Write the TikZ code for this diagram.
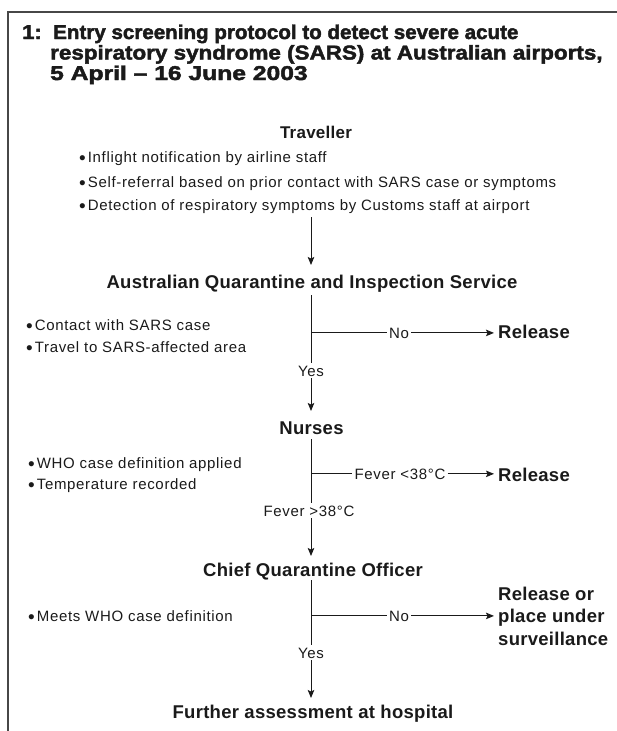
\documentclass[tikz,border=0pt]{standalone}
\usepackage{fontspec}
\setmainfont{Liberation Sans}
\newfontfamily\bodyfont[LetterSpace=4.5]{Liberation Sans}
\newfontfamily\headfont[LetterSpace=1.5]{Liberation Sans}
\newfontfamily\titlefont[FakeStretch=1.1,FakeBold=2.2]{Liberation Sans}
\usetikzlibrary{arrows.meta}
\definecolor{ink}{HTML}{1A1A1A}
\newcommand{\bul}{\raisebox{-2.2pt}{\fontsize{19}{16}\selectfont\textbullet}\hspace{2pt}}
\tikzset{
  titletext/.style={anchor=base west, inner sep=0pt, text=ink,
    font=\titlefont\bfseries\fontsize{20}{24}\selectfont},
  headtext/.style={anchor=base, inner sep=0pt, text=ink,
    font=\headfont\bfseries\fontsize{18.5}{22}\selectfont},
  outcome/.style={anchor=base west, inner sep=0pt, inner xsep=4pt, text=ink,
    font=\headfont\bfseries\fontsize{18.5}{22}\selectfont},
  bullettext/.style={anchor=base west, inner sep=0pt, text=ink,
    font=\bodyfont\fontsize{15}{17}\selectfont},
  labeltext/.style={anchor=base, inner sep=2pt, text=ink,
    font=\bodyfont\fontsize{15}{17}\selectfont},
  flowline/.style={draw=ink, line width=1pt},
  flowarrow/.style={flowline, -{Stealth[length=8pt,width=6.5pt,inset=1.5pt]}},
  frameline/.style={draw=black!72, line width=1.6pt}
}
\begin{document}
\begin{tikzpicture}[x=1pt,y=-1pt]
\useasboundingbox (0,0) rectangle (616,731);
% frame
\draw[frameline] (8,745) -- (8,12) -- (630,12);

% title
\node[titletext] (t0) at (22,39) {1:};
\node[titletext] (t1) at (53,39) {\scalebox{0.935}[1]{Entry screening protocol to detect severe acute}};
\node[titletext] (t2) at (50,59.5) {\scalebox{1.02}[1]{respiratory syndrome (SARS) at Australian airports,}};
\node[titletext] (t3) at (50,80) {\scalebox{1.12}[1]{5 April – 16 June 2003}};

\coordinate (axis) at (311,0);

% Traveller
\node[headtext, font=\headfont\bfseries\fontsize{17}{20}\selectfont] (trav) at (316,138) {Traveller};
\node[bullettext] (tb1) at (79,162) {\bul Inflight notification by airline staff};
\node[bullettext] (tb2) at (79,187) {\bul Self-referral based on prior contact with SARS case or symptoms};
\node[bullettext] (tb3) at (79,210) {\bul Detection of respiratory symptoms by Customs staff at airport};
\coordinate (s0a) at (311,217);
\coordinate (s0b) at (311,265);
\draw[flowarrow] (s0a) -- (s0b);

% AQIS
\node[headtext] (aqis) at (312,288) {Australian Quarantine and Inspection Service};
\node[bullettext] (ab1) at (26,330) {\bul Contact with SARS case};
\node[bullettext] (ab2) at (26,352) {\bul Travel to SARS-affected area};
\coordinate (s1a) at (311,295);
\node[labeltext] (yes1) at (311,376) {Yes};
\node[labeltext] (no1) at (399,338) {No};
\node[outcome] (rel1) at (494,338) {Release};
\draw[flowline] (s1a) -- (yes1.north);
\draw[flowline] (axis |- no1.west) -- (no1.west);
\draw[flowarrow] (no1.east) -- (no1.east -| rel1.west);
\coordinate (s1b) at (311,411);
\draw[flowarrow] (yes1.south) -- (s1b);

% Nurses
\node[headtext] (nurse) at (311.5,434) {Nurses};
\node[bullettext] (nb1) at (28,468) {\bul WHO case definition applied};
\node[bullettext] (nb2) at (28,489) {\bul Temperature recorded};
\coordinate (s2a) at (311,439);
\node[labeltext] (fev2) at (309,516) {Fever >38°C};
\node[labeltext] (fev1) at (400,479) {Fever <38°C};
\node[outcome] (rel2) at (494,481) {Release};
\draw[flowline] (s2a) -- (s2a |- fev2.north);
\draw[flowline] (axis |- fev1.west) -- (fev1.west);
\draw[flowarrow] (fev1.east) -- (fev1.east -| rel2.west);
\coordinate (s2b) at (311,556);
\draw[flowarrow] (s2a |- fev2.south) -- (s2b);

% Chief Quarantine Officer
\node[headtext] (cqo) at (313,576) {Chief Quarantine Officer};
\node[bullettext] (cb1) at (28,621) {\bul Meets WHO case definition};
\coordinate (s3a) at (311,580);
\node[labeltext] (yes3) at (311,658) {Yes};
\node[labeltext] (no3) at (399,621) {No};
\node[outcome] (out3a) at (494,600) {Release or};
\node[outcome] (out3b) at (494,622) {place under};
\node[outcome] (out3c) at (494,645) {surveillance};
\draw[flowline] (s3a) -- (yes3.north);
\draw[flowline] (axis |- no3.west) -- (no3.west);
\draw[flowarrow] (no3.east) -- (no3.east -| out3b.west);
\coordinate (s3b) at (311,698);
\draw[flowarrow] (yes3.south) -- (s3b);

% Final
\node[headtext] (hosp) at (313,718) {Further assessment at hospital};
\end{tikzpicture}
\end{document}
